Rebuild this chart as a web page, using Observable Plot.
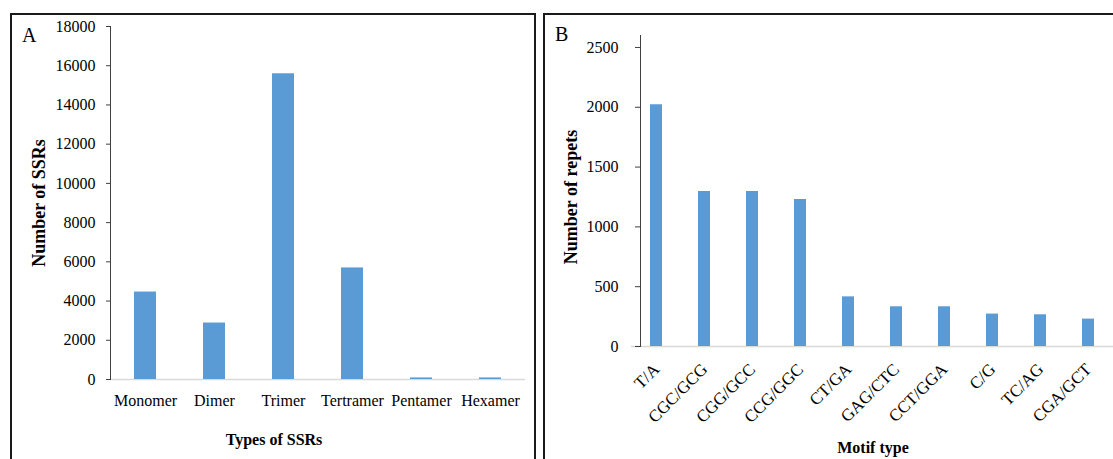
<!DOCTYPE html>
<html><head><meta charset="utf-8">
<script src="https://cdn.jsdelivr.net/npm/d3@7"></script>
<script src="https://cdn.jsdelivr.net/npm/@observablehq/plot@0.6"></script>
<style>
body{margin:0;background:#fff;}
#wrap{position:relative;width:1113px;height:459px;overflow:hidden;font-family:"Liberation Serif","Times New Roman",serif;}
.panel{position:absolute;}
.box{position:absolute;border:2px solid #1a1a1a;pointer-events:none;}
.letter{position:absolute;font-size:20px;line-height:1;color:#000;}
</style></head><body>
<div id="wrap">
 <div id="a" class="panel" style="left:0;top:0"></div>
 <div id="b" class="panel" style="left:544px;top:0"></div>
 <div class="box" style="left:10px;top:13px;width:522px;height:460px;border-bottom:none"></div>
 <div class="box" style="left:543px;top:13px;width:600px;height:460px;border-right:none;border-bottom:none"></div>
 <div class="letter" style="left:22px;top:25px">A</div>
 <div class="letter" style="left:555px;top:24px">B</div>
</div>
<script>
// Panel A data
const typesA = ["Monomer","Dimer","Trimer","Tertramer","Pentamer","Hexamer"];
const countsA = [4460, 2880, 15590, 5690, 80, 80];
const ticksA = [0,2000,4000,6000,8000,10000,12000,14000,16000,18000];
// Panel B data
const motifs = ["T/A","CGC/GCG","CGG/GCC","CCG/GGC","CT/GA","GAG/CTC","CCT/GGA","C/G","TC/AG","CGA/GCT"];
const repeats = [2021, 1296, 1296, 1229, 415, 332, 332, 271, 265, 229];
const ticksB = [0,500,1000,1500,2000,2500];

const serif = "'Liberation Serif','Times New Roman',serif";
const barColor = "#5B9BD5";
const plain = d => String(d);

const tableA = typesA.map((t,i)=>({type:t, n:countsA[i]}));
const tableB = motifs.map((m,i)=>({motif:m, n:repeats[i]}));

const plotA = Plot.plot({
  width: 536, height: 459,
  marginLeft: 110, marginRight: 11, marginTop: 26, marginBottom: 80,
  style: {fontFamily: serif, fontSize: "16px", color: "#000", background: "transparent"},
  x: {domain: typesA, paddingInner: 0.68, paddingOuter: 0.34, label: null},
  y: {domain: [0, 18000], label: null},
  marks: [
    Plot.ruleY([0], {stroke: "#d9d9d9", strokeWidth: 1.5}),
    Plot.barY(tableA, {x: "type", y: "n", fill: barColor}),
    Plot.frame({anchor: "left", stroke: "#404040"}),
    Plot.axisY(ticksA, {tickSize: 4, tickPadding: 11, stroke: "#404040", tickFormat: plain, label: null}),
    Plot.axisX({tickSize: 0, tickPadding: 15, label: null}),
    Plot.text(["Types of SSRs"], {frameAnchor: "bottom", textAnchor: "middle", lineAnchor: "middle", dx: -44, dy: 60, fontWeight: "bold", fontSize: 16}),
    Plot.text(["Number of SSRs"], {frameAnchor: "left", textAnchor: "middle", lineAnchor: "middle", dx: -71, rotate: -90, fontWeight: "bold", fontSize: 18})
  ]
});
document.getElementById("a").appendChild(plotA);

const plotB = Plot.plot({
  width: 569, height: 459,
  marginLeft: 96, marginRight: 0, marginTop: 35, marginBottom: 113,
  style: {fontFamily: serif, fontSize: "16px", color: "#000", background: "transparent"},
  x: {domain: motifs, paddingInner: 0.75, paddingOuter: 0.28, align: 0.358, label: null},
  y: {domain: [0, 2600], label: null},
  marks: [
    Plot.ruleY([0], {stroke: "#d9d9d9", strokeWidth: 1.5, insetLeft: -9}),
    Plot.barY(tableB, {x: "motif", y: "n", fill: barColor}),
    Plot.frame({anchor: "left", stroke: "#404040"}),
    Plot.axisY(ticksB, {tickSize: 5, tickPadding: 17, stroke: "#404040", tickFormat: plain, label: null}),
    Plot.axisX({tickSize: 0, tickPadding: 20, tickRotate: -45, fontSize: 17, label: null}),
    Plot.text(["Motif type"], {frameAnchor: "bottom", textAnchor: "middle", lineAnchor: "middle", dx: -4, dy: 101, fontWeight: "bold", fontSize: 16}),
    Plot.text(["Number of repets"], {frameAnchor: "left", textAnchor: "middle", lineAnchor: "middle", dx: -69, dy: 6, rotate: -90, fontWeight: "bold", fontSize: 18})
  ]
});
document.getElementById("b").appendChild(plotB);
</script>
</body></html>
